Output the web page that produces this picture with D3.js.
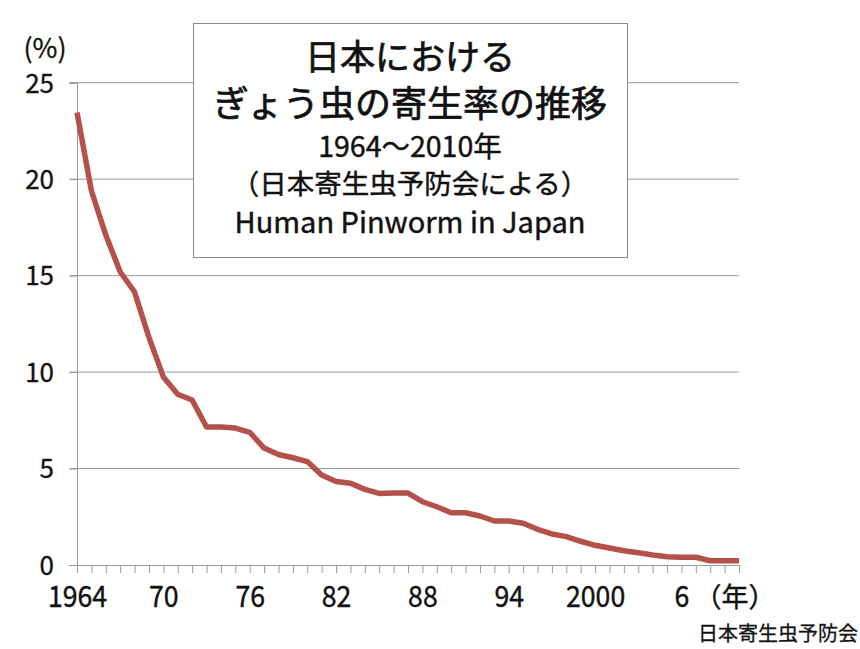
<!DOCTYPE html>
<html>
<head>
<meta charset="utf-8">
<script src="https://cdn.jsdelivr.net/npm/d3@7"></script>
<style>
  body { margin: 0; background: #fff; }
  svg { display: block; font-family: "Noto Sans CJK JP", "Noto Sans", sans-serif; }
</style>
</head>
<body>
<div id="chart"></div>
<script>
// years 1964..2010 and pinworm positive rate (%)
const years = [1964, 1965, 1966, 1967, 1968, 1969, 1970, 1971, 1972, 1973, 1974, 1975,
  1976, 1977, 1978, 1979, 1980, 1981, 1982, 1983, 1984, 1985, 1986, 1987, 1988, 1989,
  1990, 1991, 1992, 1993, 1994, 1995, 1996, 1997, 1998, 1999, 2000, 2001, 2002, 2003,
  2004, 2005, 2006, 2007, 2008, 2009, 2010];
const rates = [23.45, 19.4, 17.1, 15.2, 14.15, 11.8, 9.75, 8.85, 8.55, 7.15, 7.15, 7.1,
  6.88, 6.06, 5.73, 5.56, 5.36, 4.66, 4.33, 4.24, 3.92, 3.71, 3.73, 3.73, 3.28, 3.02,
  2.71, 2.71, 2.54, 2.28, 2.28, 2.16, 1.85, 1.61, 1.47, 1.23, 1.02, 0.88, 0.74, 0.64,
  0.52, 0.43, 0.40, 0.40, 0.22, 0.22, 0.22];
const yTicks = [0, 5, 10, 15, 20, 25];
const xLabelYears = [1964, 1970, 1976, 1982, 1988, 1994, 2000, 2006];
const xLabels = ["1964", "70", "76", "82", "88", "94", "2000", "6"];
const titleLines = ["日本における", "ぎょう虫の寄生率の推移", "1964～2010年", "（日本寄生虫予防会による）", "Human Pinworm in Japan"];

const W = 860, H = 649;
const svg = d3.select("#chart").append("svg")
  .attr("width", W)
  .attr("height", H);

const x = d3.scalePoint()
  .domain(years)
  .range([77, 739]);

const y = d3.scaleLinear()
  .domain([0, 25])
  .range([565, 82.7]);

// gridlines
svg.append("g")
  .selectAll("line")
  .data(yTicks.filter(d => d > 0))
  .enter().append("line")
  .attr("x1", 70).attr("x2", 739)
  .attr("y1", d => y(d)).attr("y2", d => y(d))
  .attr("stroke", "#9a9a9a").attr("stroke-width", 1);

// y axis
const yAxis = svg.append("g")
  .attr("transform", "translate(77,0)")
  .call(d3.axisLeft(y).tickValues(yTicks).tickSize(8).tickPadding(15));
yAxis.select(".domain").attr("stroke", "#9a9a9a");
yAxis.selectAll(".tick line").attr("stroke", "#9a9a9a");
yAxis.selectAll("text")
  .attr("font-size", 26)
  .attr("fill", "#111")
  .attr("stroke", "#111").attr("stroke-width", 0.3)
  .attr("font-family", "'Noto Sans CJK JP', sans-serif")
  .attr("dy", "0.36em");

// x axis
const labelOf = {};
xLabelYears.forEach((yr, i) => { labelOf[yr] = xLabels[i]; });
const xAxis = svg.append("g")
  .attr("transform", "translate(0,565)")
  .call(d3.axisBottom(x).tickSize(8).tickPadding(12).tickSizeOuter(0)
    .tickFormat(d => labelOf[d] || ""));
xAxis.select(".domain").attr("stroke", "#9a9a9a");
xAxis.selectAll(".tick line").attr("stroke", "#9a9a9a");
xAxis.selectAll("text")
  .attr("font-size", 29)
  .attr("fill", "#111")
  .attr("stroke", "#111").attr("stroke-width", 0.4)
  .attr("font-family", "'Noto Sans CJK JP', sans-serif")
  .attr("dy", "0.75em")
  .attr("transform", "scale(0.92,1)");

// line
const line = d3.line()
  .x((d, i) => x(years[i]))
  .y(d => y(d));

svg.append("path")
  .datum(rates)
  .attr("fill", "none")
  .attr("stroke", "#b4514b")
  .attr("stroke-width", 5.5)
  .attr("stroke-linejoin", "round")
  .attr("d", line);

// unit labels
svg.append("text")
  .attr("x", 45).attr("y", 58)
  .attr("text-anchor", "middle")
  .attr("font-size", 27)
  .attr("fill", "#111")
  .attr("stroke", "#111").attr("stroke-width", 0.3)
  .text("(%)");

svg.append("text")
  .attr("x", 735).attr("y", 607)
  .attr("text-anchor", "middle")
  .attr("font-size", 27)
  .attr("fill", "#111")
  .attr("stroke", "#111").attr("stroke-width", 0.4)
  .text("（年）");

svg.append("text")
  .attr("x", 858).attr("y", 641)
  .attr("text-anchor", "end")
  .attr("font-size", 20)
  .attr("fill", "#111")
  .attr("stroke", "#111").attr("stroke-width", 0.3)
  .text("日本寄生虫予防会");

// title box
svg.append("rect")
  .attr("x", 193.5).attr("y", 23.5)
  .attr("width", 434).attr("height", 234)
  .attr("fill", "#fff")
  .attr("stroke", "#8a8a8a")
  .attr("stroke-width", 1);

const titleY = [70, 117, 157, 194, 233];
const titleSize = [35, 36, 28.5, 27.5, 29];
const titleStroke = [0.7, 0.7, 0.45, 0.45, 0.45];
svg.append("g")
  .selectAll("text")
  .data(titleLines)
  .enter().append("text")
  .attr("x", 410)
  .attr("y", (d, i) => titleY[i])
  .attr("text-anchor", "middle")
  .attr("font-size", (d, i) => titleSize[i])
  .attr("fill", "#111")
  .attr("stroke", "#111")
  .attr("stroke-width", (d, i) => titleStroke[i])
  .text(d => d);
</script>
</body>
</html>
